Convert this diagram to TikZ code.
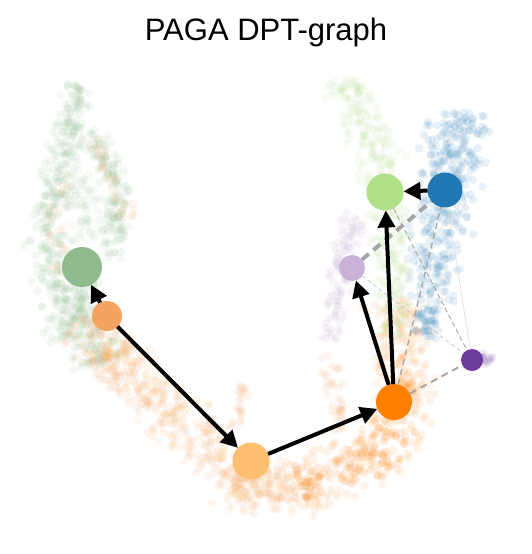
\documentclass[tikz,border=0pt]{standalone}
\usepackage{fontspec}
\setmainfont{Liberation Sans}
\usetikzlibrary{arrows.meta}
\definecolor{cDG}{HTML}{8FBC8F}
\definecolor{cSA}{HTML}{F4A460}
\definecolor{cLO}{HTML}{FDBF6F}
\definecolor{cOR}{HTML}{FF7F00}
\definecolor{cLG}{HTML}{B2DF8A}
\definecolor{cBL}{HTML}{1F78B4}
\definecolor{cLA}{HTML}{CAB2D6}
\definecolor{cPU}{HTML}{6A3D9A}
% dots spread along a band from (x1,y1) to (x2,y2) of width w
\newcommand\myband[8]{%
  \pgfmathsetmacro\dxx{#5-#3}%
  \pgfmathsetmacro\dyy{#6-#4}%
  \pgfmathsetmacro\LL{veclen(\dxx,\dyy)}%
  \pgfmathsetmacro\nxx{-\dyy/\LL}%
  \pgfmathsetmacro\nyy{\dxx/\LL}%
  \foreach \k in {1,...,#2}{%
    \pgfmathsetmacro\tq{rnd}%
    \pgfmathsetmacro\sq{(rnd+rnd-1)*#7*0.62}%
    \pgfmathsetmacro\px{#3+\tq*\dxx+\sq*\nxx}%
    \pgfmathsetmacro\py{#4+\tq*\dyy+\sq*\nyy}%
    \fill[#1, fill opacity=#8] (\px,\py) circle (4.2pt);
  }}
\tikzset{
  gnode/.style={circle, inner sep=0pt, outer sep=0pt, draw=none},
  flow/.style={line width=4pt, -{Triangle[length=17pt,width=17pt]}, black},
  weak/.style={draw=black!35, dashed},
}
\begin{document}
\begin{tikzpicture}[x=1pt,y=-1pt]
\pgfmathsetseed{11}
\useasboundingbox[fill=white] (0,0) rectangle (531,554);
\node[font=\fontsize{31}{36}\selectfont, anchor=base] (title) at (266,40) {PAGA DPT-graph};
% ---- scatter clouds ----
% left arm green
\myband{cDG}{90}{78}{86}{64}{150}{30}{0.1}
\myband{cDG}{110}{62}{150}{46}{235}{32}{0.1}
\myband{cDG}{80}{90}{130}{122}{200}{26}{0.1}
\myband{cDG}{60}{120}{200}{110}{260}{26}{0.1}
\myband{cDG}{60}{68}{175}{100}{235}{40}{0.08}
\myband{cDG}{170}{52}{235}{72}{340}{52}{0.1}
\myband{cDG}{130}{78}{285}{98}{365}{46}{0.1}
% left arm orange sprinkle
\myband{cSA}{30}{95}{135}{128}{220}{22}{0.1}
\myband{cSA}{30}{58}{170}{62}{290}{30}{0.08}
\myband{cSA}{90}{80}{320}{125}{380}{45}{0.1}
% lower left arm
\myband{cSA}{140}{100}{345}{175}{415}{55}{0.09}
\myband{cLO}{60}{100}{345}{175}{415}{55}{0.12}
\myband{cSA}{140}{170}{410}{250}{490}{60}{0.09}
\myband{cLO}{60}{170}{410}{250}{490}{60}{0.12}
\myband{cSA}{20}{242}{385}{240}{425}{15}{0.1}
% bottom
\myband{cSA}{150}{230}{485}{320}{490}{50}{0.1}
\myband{cLO}{50}{230}{485}{320}{490}{50}{0.12}
% right rising orange
\myband{cOR}{120}{300}{490}{380}{455}{55}{0.09}
\myband{cSA}{60}{300}{490}{380}{455}{55}{0.1}
\myband{cOR}{160}{380}{465}{412}{380}{60}{0.09}
\myband{cOR}{140}{408}{390}{395}{300}{55}{0.08}
\myband{cSA}{40}{340}{430}{328}{355}{22}{0.1}
% light green
\myband{cLG}{130}{342}{78}{382}{172}{46}{0.1}
\myband{cLG}{100}{380}{172}{396}{262}{42}{0.1}
\myband{cLG}{80}{396}{262}{396}{335}{35}{0.1}
% blue
\myband{cBL}{160}{457}{112}{452}{185}{58}{0.1}
\myband{cBL}{170}{447}{185}{432}{300}{54}{0.1}
\myband{cBL}{50}{432}{300}{422}{335}{30}{0.1}
% lavender
\myband{cLA}{60}{356}{215}{340}{280}{35}{0.12}
\myband{cLA}{40}{340}{280}{330}{340}{22}{0.12}
% purple
\myband{cPU}{25}{468}{357}{494}{360}{12}{0.12}
% ---- graph nodes ----
\node[gnode, fill=cDG, minimum size=40pt] (dg) at (82,267) {};
\node[gnode, fill=cSA, minimum size=30pt] (sa) at (107,316) {};
\node[gnode, fill=cLO, minimum size=37pt] (lo) at (251,461) {};
\node[gnode, fill=cOR, minimum size=36pt] (or) at (394,402) {};
\node[gnode, fill=cLG, minimum size=37pt] (lg) at (385,192) {};
\node[gnode, fill=cBL, minimum size=35pt] (bl) at (445,190) {};
\node[gnode, fill=cLA, minimum size=26pt] (la) at (352,268) {};
\node[gnode, fill=cPU, minimum size=22pt] (pu) at (472,360) {};
% ---- weak edges ----
\draw[weak, line width=4pt, dash pattern=on 9pt off 6pt] (la) -- (bl);
\draw[weak, line width=2pt, dash pattern=on 7pt off 5pt] (or) -- (pu);
\draw[weak, line width=1.4pt, dash pattern=on 6pt off 4pt] (or) -- (bl);
\draw[weak, line width=0.9pt, dash pattern=on 5pt off 3pt] (lg) -- (pu);
\draw[weak, line width=0.7pt, dash pattern=on 4pt off 3pt, draw=black!25] (la) -- (pu);
\draw[draw=black!15, line width=0.5pt] (bl) -- (pu);
% ---- directed edges ----
\draw[flow] (sa) -- (dg);
\draw[flow] (sa) -- (lo);
\draw[flow] (lo) -- (or);
\draw[flow] (or) -- (la);
\draw[flow] (or) -- (lg);
\draw[flow] (bl) -- (lg);
\end{tikzpicture}
\end{document}
